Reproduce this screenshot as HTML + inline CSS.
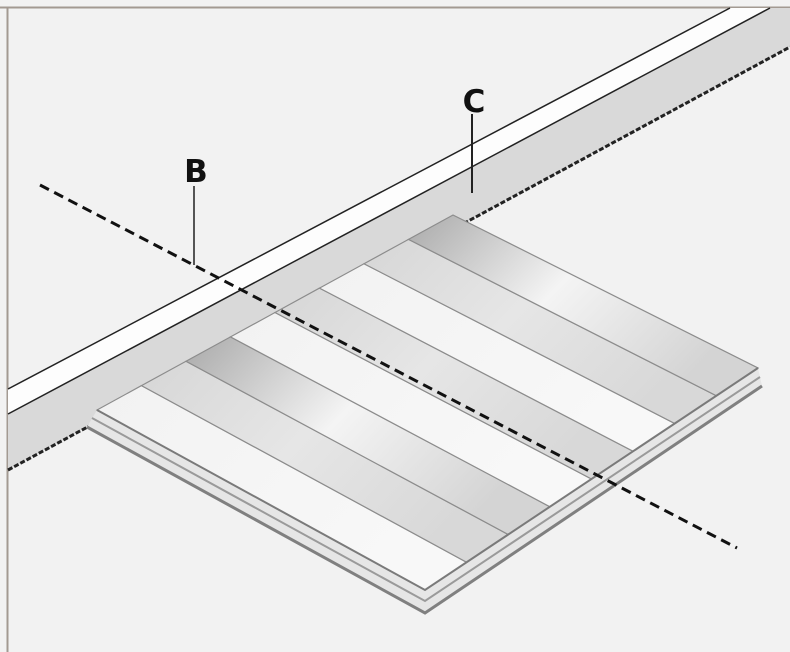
<!DOCTYPE html>
<html><head><meta charset="utf-8"><style>
html,body{margin:0;padding:0;background:#f2f2f2}
svg{display:block}
text{font-family:"DejaVu Sans","Liberation Sans",sans-serif;font-weight:bold}
</style></head><body>
<svg width="790" height="652" viewBox="0 0 790 652" xmlns="http://www.w3.org/2000/svg">
<defs>
<linearGradient id="dk" x1="0" y1="0" x2="1" y2="0.5">
<stop offset="0" stop-color="#a9a9a9"/><stop offset="0.5" stop-color="#f4f4f4"/><stop offset="1" stop-color="#d4d4d4"/>
</linearGradient>
<linearGradient id="gr" x1="0" y1="0" x2="1" y2="0.5">
<stop offset="0" stop-color="#d6d6d6"/><stop offset="0.5" stop-color="#e6e6e6"/><stop offset="1" stop-color="#d8d8d8"/>
</linearGradient>
<linearGradient id="wh" x1="0" y1="0" x2="1" y2="0.5">
<stop offset="0" stop-color="#f2f2f2"/><stop offset="1" stop-color="#f8f8f8"/>
</linearGradient>
</defs>
<rect width="790" height="652" fill="#f2f2f2"/>
<line x1="0" y1="7.5" x2="790" y2="7.5" stroke="#a39a92" stroke-width="2"/>
<line x1="7.5" y1="7" x2="7.5" y2="652" stroke="#a39a92" stroke-width="2"/>

<!-- wall -->
<polygon points="8,414 770,8 790,8 790,47 8,470" fill="#d9d9d9"/>
<polygon points="8,389 730,8 770,8 8,414" fill="#fdfdfd"/>
<line x1="8" y1="389" x2="730" y2="8" stroke="#222" stroke-width="1.5"/>
<line x1="8" y1="414" x2="770" y2="8" stroke="#222" stroke-width="1.5"/>
<line x1="8" y1="470" x2="790" y2="47" stroke="#222" stroke-width="3" stroke-dasharray="5 2"/>

<!-- lower layer -->
<polygon points="87,427 425,613 762,386 758,368 425,590 97,410" fill="#e6e6e6"/>
<polyline points="87,427 425,613 762,386" fill="none" stroke="#808080" stroke-width="3"/>
<polyline points="92,418 425,601 760,377" fill="none" stroke="#9a9a9a" stroke-width="2"/>

<!-- stripes -->
<g stroke="#8c8c8c" stroke-width="1.2">
<polygon points="97,410 141.5,385.6 466.6,562.25 425,590" fill="url(#wh)"/>
<polygon points="141.5,385.6 186,361.25 508.25,534.5 466.6,562.25" fill="url(#gr)"/>
<polygon points="186,361.25 230.5,336.9 549.9,506.75 508.25,534.5" fill="url(#dk)"/>
<polygon points="230.5,336.9 275,312.5 591.5,479 549.9,506.75" fill="url(#wh)"/>
<polygon points="275,312.5 319.5,288.1 633.1,451.25 591.5,479" fill="url(#gr)"/>
<polygon points="319.5,288.1 364,263.75 674.75,423.5 633.1,451.25" fill="url(#wh)"/>
<polygon points="364,263.75 408.5,239.4 716.4,395.75 674.75,423.5" fill="url(#gr)"/>
<polygon points="408.5,239.4 453,215 758,368 716.4,395.75" fill="url(#dk)"/>
</g>
<polyline points="97,410 425,590 758,368" fill="none" stroke="#7a7a7a" stroke-width="2"/>

<!-- section line -->
<line x1="40" y1="185" x2="737" y2="548" stroke="#111" stroke-width="3" stroke-dasharray="10 6"/>

<!-- labels -->
<text x="196" y="182" font-size="31" text-anchor="middle" fill="#111">B</text>
<line x1="194" y1="186" x2="194" y2="265" stroke="#555" stroke-width="2"/>
<text x="474" y="112" font-size="31" text-anchor="middle" fill="#111">C</text>
<line x1="472" y1="114" x2="472" y2="193" stroke="#222" stroke-width="2"/>
</svg>
</body></html>
